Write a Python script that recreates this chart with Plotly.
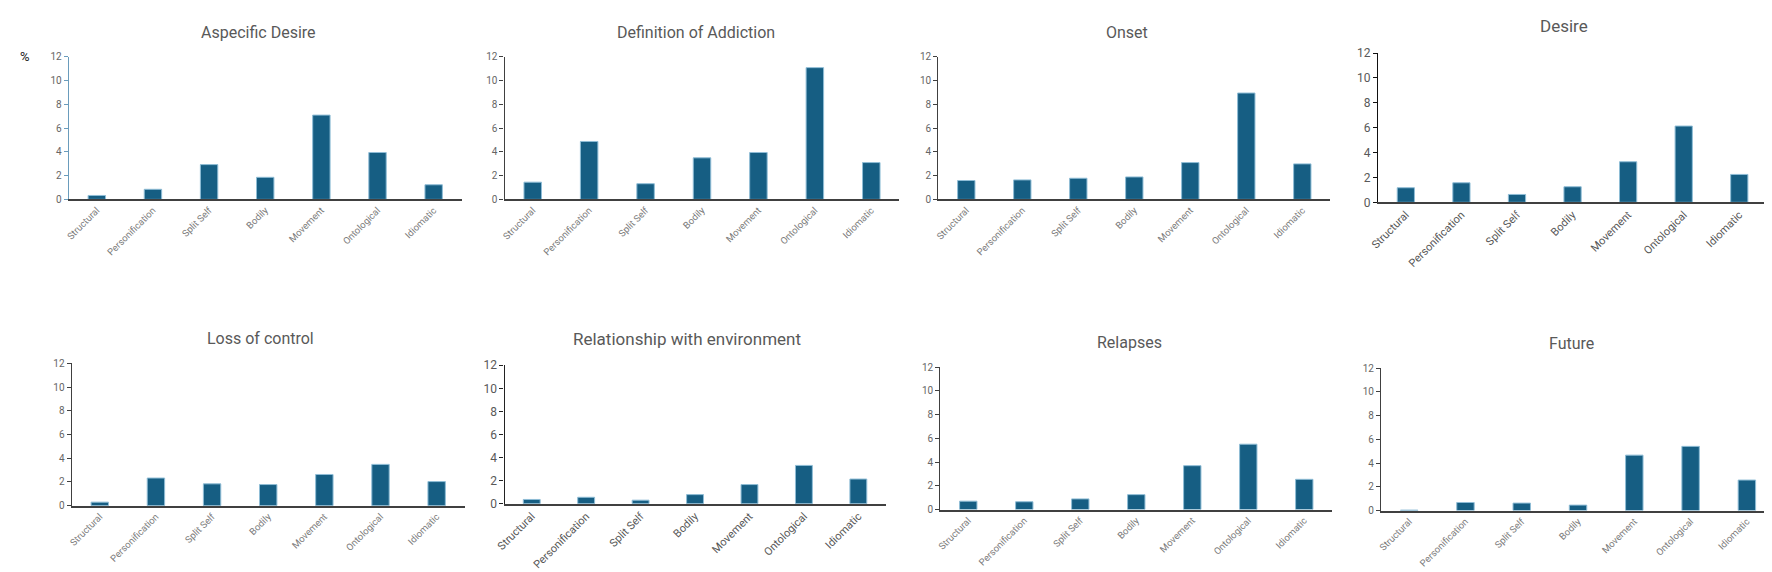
import plotly.graph_objects as go

categories = ["Structural", "Personification", "Split Self", "Bodily", "Movement", "Ontological", "Idiomatic"]
tick_text_small = ["Structural", "Personification", "Split Self", "Bodily", "Movement", "Ontological", "Idiomatic"]

titles = ["Aspecific Desire", "Definition of Addiction", "Onset", "Desire",
          "Loss of control", "Relationship with environment", "Relapses", "Future"]

aspecific_desire = [0.33, 0.85, 2.93, 1.86, 7.1, 3.95, 1.23]
definition_of_addiction = [1.45, 4.88, 1.32, 3.5, 3.95, 11.1, 3.1]
onset = [1.59, 1.64, 1.78, 1.89, 3.1, 8.96, 2.99]
desire = [1.17, 1.57, 0.63, 1.25, 3.26, 6.13, 2.24]
loss_of_control = [0.3, 2.33, 1.84, 1.78, 2.63, 3.48, 2.03]
relationship_with_environment = [0.37, 0.56, 0.31, 0.79, 1.66, 3.32, 2.14]
relapses = [0.71, 0.66, 0.9, 1.26, 3.7, 5.51, 2.55]
future = [0.04, 0.68, 0.63, 0.46, 4.67, 5.41, 2.57]

series = [aspecific_desire, definition_of_addiction, onset, desire,
          loss_of_control, relationship_with_environment, relapses, future]

W, H = 1772, 572
# plot boxes in pixels: (x0, x1, ytop, ybottom)
boxes = [
    (52, 447, 43, 189),
    (490, 887, 43, 189),
    (926, 1320, 43, 189),
    (1368, 1759, 39, 192),
    (55, 450, 357, 503),
    (490, 873, 359, 501),
    (928, 1322, 361, 507),
    (1371, 1767, 362, 508),
]
title_pos = [(243, 18), (682, 18), (1116, 18), (1555, 11),
             (245, 332), (673, 332), (1118, 336), (1562, 337)]
big = [False, False, False, True, False, True, False, False]
yaxis_colors = ["#6a9cbc", "#404040", "#404040", "#111111", "#404040", "#222222", "#404040", "#404040"]

FONT = "Roboto"
BAR = "#165E83"

fig = go.Figure()
layout = dict(
    width=W, height=H, margin=dict(l=0, r=0, t=0, b=0),
    plot_bgcolor="white", paper_bgcolor="white", showlegend=False,
    bargap=0.7, font=dict(family=FONT, color="#595959"),
)
annotations = []
for i, (vals, box) in enumerate(zip(series, boxes)):
    n = "" if i == 0 else str(i + 1)
    x0, x1, yt, yb = box
    fig.add_trace(go.Bar(
        x=categories, y=vals, xaxis="x" + n, yaxis="y" + n,
        marker=dict(color=BAR, line=dict(color="#8fbdd6", width=1)),
        width=0.31,
    ))
    tsize = 12 if big[i] else 10
    xsize = 11 if big[i] else 9.5
    xcol = "#555555" if big[i] else "#7a7a7a"
    layout["xaxis" + n] = dict(
        domain=[x0 / W, x1 / W], anchor="y" + n, type="category",
        range=[-0.5, 6.5], showgrid=False, showline=True,
        linecolor="#404040", linewidth=1.5, ticks="", tickangle=-45,
        tickfont=dict(size=xsize, color=xcol, family=FONT),
        tickvals=categories, ticktext=tick_text_small, fixedrange=True,
    )
    layout["yaxis" + n] = dict(
        domain=[(H - yb) / H, (H - yt) / H], anchor="x" + n,
        range=[0, 12], tickvals=[0, 2, 4, 6, 8, 10, 12],
        showgrid=False, zeroline=False, showline=True,
        linecolor=yaxis_colors[i], linewidth=1.2, ticks="outside",
        ticklen=4, tickcolor=yaxis_colors[i],
        tickfont=dict(size=tsize, color="#595959" if big[i] else "#666666", family=FONT),
        fixedrange=True,
    )
    tx, ty = title_pos[i]
    annotations.append(dict(
        text=titles[i], x=tx / W, y=(H - ty) / H, xref="paper", yref="paper",
        xanchor="center", yanchor="middle", showarrow=False,
        font=dict(size=16 if not big[i] else 17, color="#595959", family=FONT),
    ))
annotations.append(dict(
    text="%", x=8 / W, y=(H - 43) / H, xref="paper", yref="paper",
    xanchor="center", yanchor="middle", showarrow=False,
    font=dict(size=13, color="#222222", family=FONT),
))
layout["annotations"] = annotations
fig.update_layout(**layout)
fig.write_html("out.html")
